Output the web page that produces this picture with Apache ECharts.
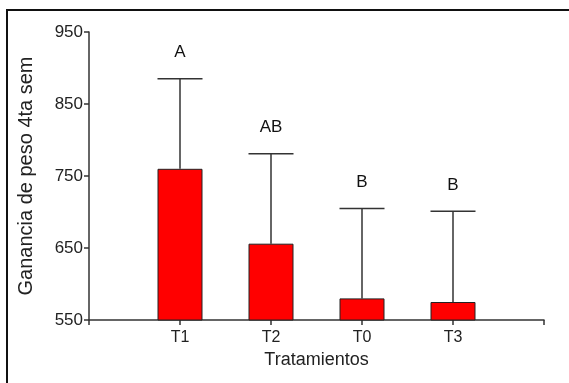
<!DOCTYPE html>
<html>
<head>
<meta charset="utf-8">
<script src="https://cdn.jsdelivr.net/npm/echarts@6/dist/echarts.min.js"></script>
<style>html,body{margin:0;padding:0;background:#fff;}#c{width:569px;height:383px;}</style>
</head>
<body>
<div id="c"></div>
<script>
var categories = ['T1', 'T2', 'T0', 'T3'];
var means = [760, 656, 580, 575];
var errTops = [885, 781, 705, 701];
var letters = ['A', 'AB', 'B', 'B'];
var yTicks = [550, 650, 750, 850, 950];

var axisCats = [''].concat(categories).concat(['']);
var barData = [null].concat(means).concat([null]);
var errData = categories.map(function (c, i) { return [i + 1, means[i], errTops[i], letters[i]]; });

var chart = echarts.init(document.getElementById('c'));
var font = 'Liberation Sans, Arial, sans-serif';
chart.setOption({
  animation: false,
  graphic: [{
    type: 'rect', shape: { x: 7, y: 10, width: 700, height: 500 },
    style: { fill: 'none', stroke: '#111', lineWidth: 2 }, silent: true
  }],
  grid: { left: 89, right: 25, top: 32, bottom: 63 },
  xAxis: {
    type: 'category', data: axisCats, boundaryGap: false,
    name: 'Tratamientos', nameLocation: 'middle', nameGap: 30,
    nameTextStyle: { fontFamily: font, fontSize: 18, color: '#222' },
    axisLine: { lineStyle: { color: '#333', width: 1.5 } },
    axisTick: { show: true, length: 5, alignWithLabel: true, lineStyle: { color: '#333', width: 1.5 } },
    axisLabel: { fontFamily: font, fontSize: 16, color: '#222', margin: 10, interval: 0 },
    splitLine: { show: false }
  },
  yAxis: {
    type: 'value', min: yTicks[0], max: yTicks[yTicks.length - 1], interval: 100,
    name: 'Ganancia de peso 4ta sem', nameLocation: 'middle', nameGap: 53,
    nameTextStyle: { fontFamily: font, fontSize: 20, color: '#222' },
    axisLine: { show: true, lineStyle: { color: '#333', width: 1.5 } },
    axisTick: { show: true, length: 5, lineStyle: { color: '#333', width: 1.5 } },
    axisLabel: { fontFamily: font, fontSize: 17, color: '#222', margin: 6 },
    splitLine: { show: false }
  },
  series: [
    {
      type: 'custom', z: 1,
      renderItem: function (params, api) {
        var x = api.value(0);
        var p0 = api.coord([x, api.value(1)]);
        var p1 = api.coord([x, api.value(2)]);
        var hw = 22.5;
        return {
          type: 'group',
          children: [
            { type: 'line', shape: { x1: p0[0], y1: p0[1], x2: p1[0], y2: p1[1] }, style: { stroke: '#333', lineWidth: 1.5 } },
            { type: 'line', shape: { x1: p1[0] - hw, y1: p1[1], x2: p1[0] + hw, y2: p1[1] }, style: { stroke: '#333', lineWidth: 1.5 } },
            { type: 'text', x: p1[0], y: p1[1] - 26, style: { text: api.value(3), fontFamily: font, fontSize: 17, fill: '#111', align: 'center', verticalAlign: 'middle' } }
          ]
        };
      },
      encode: { x: 0, y: [1, 2] },
      dimensions: [null, null, null, { name: 'l', type: 'ordinal' }],
      data: errData
    },
    {
      type: 'bar', z: 2, barWidth: 45,
      data: barData,
      itemStyle: { color: '#ff0000', borderColor: '#222', borderWidth: 1 }
    }
  ]
});
</script>
</body>
</html>
